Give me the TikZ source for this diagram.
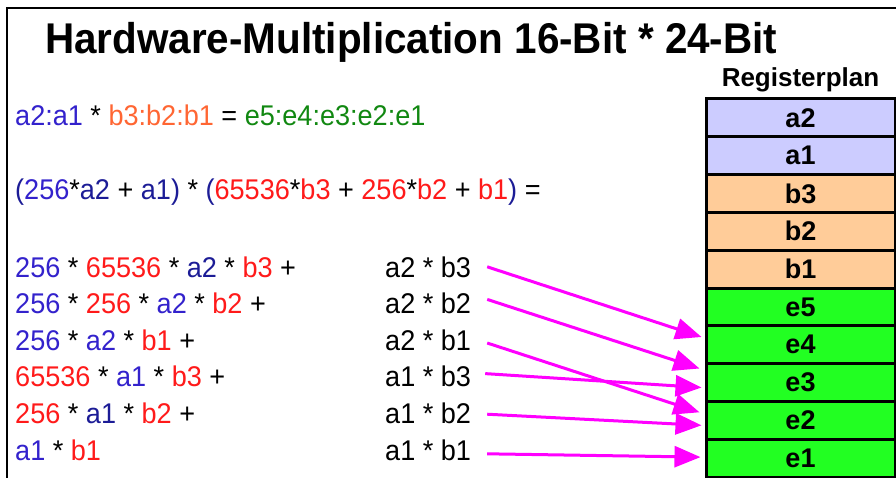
\documentclass[tikz,border=0pt]{standalone}
\usepackage{fontspec}
\setmainfont{Liberation Sans}
\usetikzlibrary{arrows.meta,calc}
\definecolor{cblue}{HTML}{3322CC}
\definecolor{cnavy}{HTML}{1C1C96}
\definecolor{cred}{HTML}{FF1A1A}
\definecolor{corange}{HTML}{FF6633}
\definecolor{cgreen}{HTML}{118811}
\definecolor{cmag}{HTML}{FF00FF}
\definecolor{clav}{HTML}{CCCCFF}
\definecolor{cpeach}{HTML}{FFCC99}
\definecolor{cegreen}{HTML}{22FF22}
\newcommand{\cB}[1]{\textcolor{cblue}{#1}}
\newcommand{\cN}[1]{\textcolor{cnavy}{#1}}
\newcommand{\cR}[1]{\textcolor{cred}{#1}}
\newcommand{\sx}[1]{\scalebox{0.95}[1]{#1}}
\begin{document}
\begin{tikzpicture}[x=1pt,y=-1pt,
  txt/.style={anchor=base west,inner sep=0pt,font=\fontsize{28.5}{30}\selectfont},
  reg/.style={draw=black,line width=3pt,minimum width=189pt,minimum height=37.8pt,inner sep=0pt,font=\fontsize{27}{29}\selectfont\bfseries},
  rega/.style={reg,fill=clav},
  regb/.style={reg,fill=cpeach},
  rege/.style={reg,fill=cegreen},
  arr/.style={draw=cmag,line width=3pt,-{Triangle[length=26pt,width=21pt]}}]
\useasboundingbox (0,0) rectangle (896,478);
\draw[line width=1.5pt] (7,478) -- (7,8) -- (896,8);
% title
\node[anchor=base west,inner sep=0pt,font=\fontsize{43}{46}\selectfont\bfseries] (title) at (45,54) {\scalebox{0.94}[1]{Hardware-Multiplication 16-Bit * 24-Bit}};
% equations
\node[txt] (eq1) at (15,126) {\sx{\textcolor{cblue}{a2:a1} * \textcolor{corange}{b3:b2:b1} = \textcolor{cgreen}{e5:e4:e3:e2:e1}}};
\node[txt] (eq2) at (15,200) {\sx{\cN{(}\cB{256}*\cN{a2} + \cN{a1}\cN{)} * \cN{(}\cR{65536}*\cR{b3} + \cR{256}*\cR{b2} + \cR{b1}\cN{)} =}};
\node[txt] (l1) at (15,277) {\sx{\cB{256} * \cR{65536} * \cN{a2} * \cR{b3} +}};
\node[txt] (l2) at (15,313.6) {\sx{\cB{256} * \cR{256} * \cB{a2} * \cR{b2} +}};
\node[txt] (l3) at (15,350.2) {\sx{\cB{256} * \cB{a2} * \cR{b1} +}};
\node[txt] (l4) at (15,386.8) {\sx{\cR{65536} * \cB{a1} * \cR{b3} +}};
\node[txt] (l5) at (15,423.4) {\sx{\cR{256} * \cN{a1} * \cR{b2} +}};
\node[txt] (l6) at (15,460) {\sx{\cB{a1} * \cR{b1}}};
\node[txt] (p1) at (385,277) {\sx{a2 * b3}};
\node[txt] (p2) at (385,313.6) {\sx{a2 * b2}};
\node[txt] (p3) at (385,350.2) {\sx{a2 * b1}};
\node[txt] (p4) at (385,386.8) {\sx{a1 * b3}};
\node[txt] (p5) at (385,423.4) {\sx{a1 * b2}};
\node[txt] (p6) at (385,460) {\sx{a1 * b1}};
% register plan
\node[anchor=base,inner sep=0pt,font=\fontsize{26}{28}\selectfont\bfseries] (rp) at (800.5,87) {Registerplan};
\node[rega] (a2) at (800.5,117.9) {a2};
\node[rega] (a1) at (800.5,155.7) {a1};
\node[regb] (b3) at (800.5,193.5) {b3};
\node[regb] (b2) at (800.5,231.3) {b2};
\node[regb] (b1) at (800.5,269.1) {b1};
\node[rege] (e5) at (800.5,306.9) {e5};
\node[rege] (e4) at (800.5,344.7) {e4};
\node[rege] (e3) at (800.5,382.5) {e3};
\node[rege] (e2) at (800.5,420.3) {e2};
\node[rege] (e1) at (800.5,458.1) {e1};
% arrows
\draw[arr] ($(p1.east)+(16,0)$) -- ($(e4.west)+(-3,-7.7)$);
\draw[arr] ($(p2.east)+(16,-4)$) -- ($(e3.west)+(-5,-14)$);
\draw[arr] ($(p3.east)+(16,3)$) -- ($(e2.west)+(-5,-8)$);
\draw[arr] ($(p4.east)+(14,-3)$) -- ($(e3.west)+(-3,5)$);
\draw[arr] ($(p5.east)+(16,1)$) -- ($(e2.west)+(-3,5)$);
\draw[arr] ($(p6.east)+(16,4)$) -- ($(e1.west)+(-4,-1)$);
\end{tikzpicture}
\end{document}
